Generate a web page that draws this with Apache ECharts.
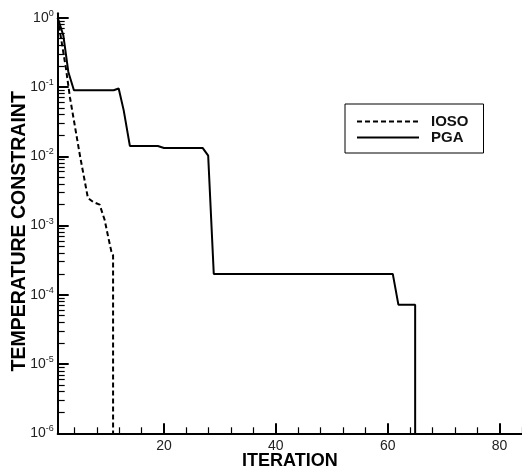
<!DOCTYPE html>
<html>
<head>
<meta charset="utf-8">
<script src="https://cdn.jsdelivr.net/npm/echarts@6/dist/echarts.min.js"></script>
<style>
  html, body { margin: 0; padding: 0; background: #fff; }
  #chart { width: 522px; height: 468px; }
</style>
</head>
<body>
<div id="chart"></div>
<script>
// data
const iosoIter = [1, 2.5, 3.2, 5, 6.4, 7.3, 8.5, 9.4, 10.0, 10.6, 10.9, 10.9]
const iosoVal = [1.0, 0.18, 0.07, 0.01, 0.0025, 0.0022, 0.002, 0.0012, 0.0007, 0.00042, 0.00037, 1e-6]

const pgaIter = [1, 2, 2.9, 3.9, 11, 11.9, 12.8, 13.9, 18.9, 20, 26.9, 27.9, 28.9, 60.9, 61.9, 64.9, 64.9]
const pgaVal = [1.0, 0.56, 0.165, 0.09, 0.09, 0.095, 0.046, 0.0141, 0.0141, 0.0132, 0.0132, 0.0102, 2.0e-4, 2.0e-4, 7.2e-5, 7.2e-5, 1e-6]

const xMajor = [20, 40, 60, 80]
const xMinor = [4, 8, 12, 16, 24, 28, 32, 36, 44, 48, 52, 56, 64, 68, 72, 76, 84]
const yExps = [-6, -5, -4, -3, -2, -1, 0]
const yMantissa = [2, 3, 4, 5, 6, 7, 8, 9]

const yMax = 1.16
const font = 'Liberation Sans, Arial, sans-serif'

const pairs = (xs, ys) => xs.map((x, i) => [x, ys[i]])

const yMinorLogs = []
yExps.slice(0, -1).forEach(e => {
  yMantissa.forEach(m => yMinorLogs.push(e + Math.log10(m)))
})

const chart = echarts.init(document.getElementById('chart'), null, { renderer: 'canvas' })

const baseX = {
  type: 'value',
  min: 1,
  max: 84,
  position: 'bottom',
  splitLine: { show: false },
}
const baseY = {
  type: 'value',
  min: -6,
  max: Math.log10(yMax),
  position: 'left',
  splitLine: { show: false },
}

const option = {
  animation: false,
  backgroundColor: '#fff',
  grid: {
    left: 57.7, right: 0, top: 13.3, bottom: 34.7,
    containLabel: false,
    outerBoundsMode: 'none',
  },
  legend: {
    data: ['IOSO', 'PGA'],
    orient: 'vertical',
    left: 345,
    top: 104,
    padding: [10, 15, 8, 11],
    itemGap: 1,
    itemWidth: 62,
    itemHeight: 14,
    borderColor: '#000',
    borderWidth: 1,
    itemStyle: { opacity: 0 },
    textStyle: {
      fontFamily: font,
      fontWeight: 'bold',
      fontSize: 15,
      color: '#111',
      padding: [0, 0, 0, 7],
    },
  },
  xAxis: [
    {
      ...baseX,
      name: 'ITERATION',
      nameLocation: 'middle',
      nameGap: 19,
      nameMoveOverlap: false,
      nameTextStyle: { fontFamily: font, fontWeight: 'bold', fontSize: 18, color: '#000' },
      axisLine: { onZero: false, lineStyle: { color: '#000', width: 2 } },
      axisTick: { inside: true, length: 10, lineStyle: { color: '#000', width: 2 }, customValues: xMajor },
      axisLabel: { customValues: xMajor, margin: 6, fontFamily: font, fontSize: 14, color: '#222' },
    },
    {
      ...baseX,
      axisLine: { show: false, onZero: false },
      axisTick: { inside: true, length: 6, lineStyle: { color: '#000', width: 1.2 }, customValues: xMinor },
      axisLabel: { show: false },
    },
  ],
  yAxis: [
    {
      type: 'log',
      logBase: 10,
      min: 1e-6,
      max: yMax,
      position: 'left',
      axisLine: { onZero: false, lineStyle: { color: '#000', width: 2 } },
      axisTick: { show: false },
      axisLabel: { show: false },
      splitLine: { show: false },
    },
    {
      ...baseY,
      name: 'TEMPERATURE CONSTRAINT',
      nameLocation: 'middle',
      nameGap: 28,
      nameMoveOverlap: false,
      nameTextStyle: { fontFamily: font, fontWeight: 'bold', fontSize: 19.5, color: '#000', padding: [0, 16, 0, 0] },
      axisLine: { show: false, onZero: false },
      axisTick: { inside: true, length: 11, lineStyle: { color: '#000', width: 2 }, customValues: yExps },
      axisLabel: {
        customValues: yExps,
        margin: 4,
        formatter: v => '{b|10}{e|' + Math.round(v) + '}',
        rich: {
          b: { fontFamily: font, fontSize: 14, color: '#222', lineHeight: 18 },
          e: { fontFamily: font, fontSize: 9, color: '#222', verticalAlign: 'top' },
        },
      },
    },
    {
      ...baseY,
      axisLine: { show: false, onZero: false },
      axisTick: { inside: true, length: 7, lineStyle: { color: '#000', width: 1.2 }, customValues: yMinorLogs },
      axisLabel: { show: false },
    },
  ],
  series: [
    {
      name: 'IOSO',
      type: 'line',
      xAxisIndex: 0,
      yAxisIndex: 0,
      symbol: 'none',
      data: pairs(iosoIter, iosoVal),
      lineStyle: { color: '#000', width: 2, type: [5, 3] },
      itemStyle: { color: '#000' },
    },
    {
      name: 'PGA',
      type: 'line',
      xAxisIndex: 0,
      yAxisIndex: 0,
      symbol: 'none',
      data: pairs(pgaIter, pgaVal),
      lineStyle: { color: '#000', width: 2 },
      itemStyle: { color: '#000' },
    },
  ],
}

chart.setOption(option)
</script>
</body>
</html>
